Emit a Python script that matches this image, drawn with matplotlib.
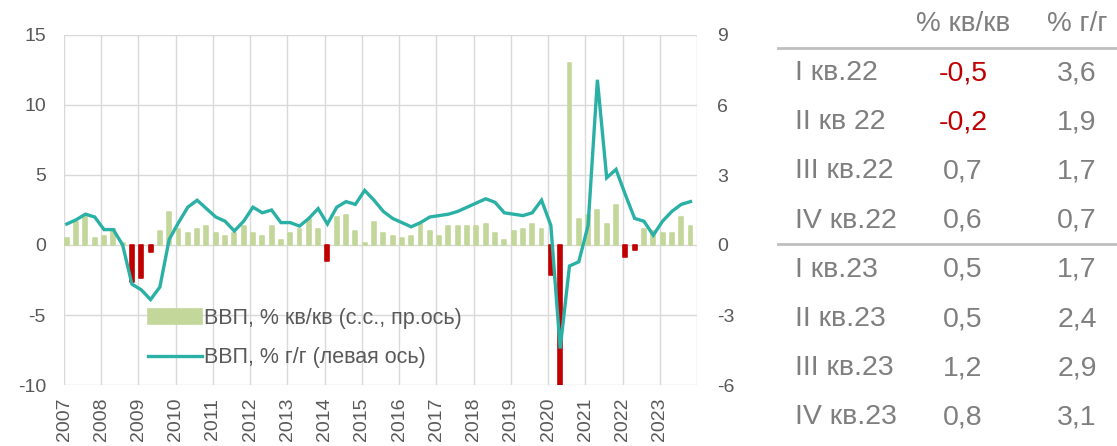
import numpy as np
import matplotlib
matplotlib.use("Agg")
import matplotlib.pyplot as plt
from matplotlib.lines import Line2D

plt.rcParams['font.family'] = ['Liberation Sans', 'DejaVu Sans']

# ---------------- data ----------------
years = list(range(2007, 2024))
# ВВП, % кв/кв (с.с.), right axis, 2007Q1..2023Q4
gdp_qq = [0.3, 1.0, 1.2, 0.3,
          0.4, 0.7, 0.1, -1.6,
          -1.4, -0.3, 0.6, 1.4,
          0.7, 0.5, 0.7, 0.8,
          0.5, 0.4, 0.5, 0.8,
          0.5, 0.4, 0.8, 0.2,
          0.5, 0.7, 1.1, 0.7,
          -0.7, 1.2, 1.3, 0.6,
          0.1, 1.0, 0.5, 0.4,
          0.3, 0.4, 0.9, 0.6,
          0.4, 0.8, 0.8, 0.8,
          0.8, 0.9, 0.5, 0.2,
          0.6, 0.7, 0.9, 0.7,
          -1.3, -7.5, 7.8, 1.1,
          1.3, 1.5, 0.9, 1.7,
          -0.5, -0.2, 0.7, 0.6,
          0.5, 0.5, 1.2, 0.8]
# ВВП, % г/г, left axis
gdp_yy = [1.5, 1.8, 2.2, 2.0,
          1.1, 1.1, 0.0, -2.8,
          -3.2, -3.9, -3.0, 0.4,
          1.6, 2.7, 3.2, 2.6,
          2.0, 1.7, 1.0, 1.7,
          2.7, 2.3, 2.5, 1.6,
          1.6, 1.35, 1.9, 2.6,
          1.5, 2.7, 3.1, 2.9,
          3.9, 3.2, 2.4, 1.9,
          1.6, 1.3, 1.6, 2.0,
          2.1, 2.2, 2.4, 2.7,
          3.0, 3.3, 3.05, 2.3,
          2.2, 2.1, 2.3, 3.2,
          1.4, -7.4, -1.5, -1.2,
          1.4, 11.8, 4.8, 5.4,
          3.6, 1.9, 1.7, 0.7,
          1.7, 2.4, 2.9, 3.1]

left_ticks = [-10, -5, 0, 5, 10, 15]
right_ticks = [-6, -3, 0, 3, 6, 9]

legend_labels = ["ВВП, % кв/кв (с.с., пр.ось)", "ВВП, % г/г (левая ось)"]

table_header = ["% кв/кв", "% г/г"]
table_rows = ["I кв.22", "II кв 22", "III кв.22", "IV кв.22",
              "I кв.23", "II кв.23", "III кв.23", "IV кв.23"]
table_qq = [-0.5, -0.2, 0.7, 0.6, 0.5, 0.5, 1.2, 0.8]
table_yy = [3.6, 1.9, 1.7, 0.7, 1.7, 2.4, 2.9, 3.1]

# ---------------- styles ----------------
GREEN = '#c4d79b'
RED = '#c00000'
TEAL = '#2bb0a6'
GRID = '#d9d9d9'
TXT = '#595959'
TBL = '#7f7f7f'

W, H = 1117, 446
fig = plt.figure(figsize=(W / 100, H / 100), dpi=100)
ax = fig.add_axes([64 / W, 61 / H, 633 / W, 350 / H])

n = len(gdp_qq)
x = np.arange(n) + 0.3
colors = [GREEN if v >= 0 else RED for v in gdp_qq]
bars = ax.bar(x, gdp_qq, width=0.42, color=colors, edgecolor=colors,
              linewidth=1.2, joinstyle='round', zorder=2)
ax.set_ylim(right_ticks[0], right_ticks[-1])
ax.set_xlim(0, n)
ax.set_yticks(right_ticks)
ax.set_yticklabels([str(t) for t in right_ticks])
ax.set_xticks(np.arange(0, n + 1, 4))
ax.set_xticklabels([str(y) for y in years] + [''], rotation=90, va='top', ha='center')
ax.grid(True, color=GRID, linewidth=1.0)
ax.set_axisbelow(True)
for s in ax.spines.values():
    s.set_visible(False)

ax2 = ax.twinx()
line, = ax2.plot(x, gdp_yy, color=TEAL, linewidth=2.4, solid_joinstyle='miter', zorder=3)
ax2.set_ylim(left_ticks[0], left_ticks[-1])
ax2.set_yticks(left_ticks)
ax2.set_yticklabels([str(t) for t in left_ticks])
ax2.yaxis.tick_left()
ax2.tick_params(axis='y', length=0, labelsize=14, labelcolor=TXT, pad=13)
for s in ax2.spines.values():
    s.set_visible(False)

ax.yaxis.tick_right()
ax.tick_params(axis='both', length=0, labelsize=14, labelcolor=TXT)
ax.tick_params(axis='y', pad=14.5)
ax.tick_params(axis='x', pad=9)

leg = ax2.legend([bars, line], legend_labels, loc='upper left',
                 bbox_to_anchor=(148 / W, 1 - 308 / H), bbox_transform=fig.transFigure,
                 frameon=False, fontsize=15.5, labelcolor=TXT,
                 handlelength=2.5, handleheight=0.7, handletextpad=0.1,
                 labelspacing=0.85, borderpad=0, borderaxespad=0)

# ---------------- table ----------------
col_x = [795, 963, 1077]
head_y = 24
row_y0, row_dy = 73, 49.2
FS = 20.5
for j, h in enumerate(table_header):
    fig.text(col_x[j + 1] / W, 1 - head_y / H, h, ha='center', va='center',
             fontsize=FS - 0.5, color=TBL)
for i, lab in enumerate(table_rows):
    yy = 1 - (row_y0 + i * row_dy) / H
    fig.text(col_x[0] / W, yy, lab, ha='left', va='center', fontsize=FS, color=TBL)
    q = table_qq[i]
    fig.text(col_x[1] / W, yy, f"{q:.1f}".replace('.', ','), ha='center', va='center',
             fontsize=FS, color=RED if q < 0 else TBL)
    fig.text(col_x[2] / W, yy, f"{table_yy[i]:.1f}".replace('.', ','), ha='center',
             va='center', fontsize=FS, color=TBL)
for ly in (47.5, 244):
    fig.add_artist(Line2D([778 / W, 1.0], [1 - ly / H, 1 - ly / H],
                          transform=fig.transFigure, color='#bfbfbf', linewidth=2))

fig.savefig('out.png', dpi=100)
